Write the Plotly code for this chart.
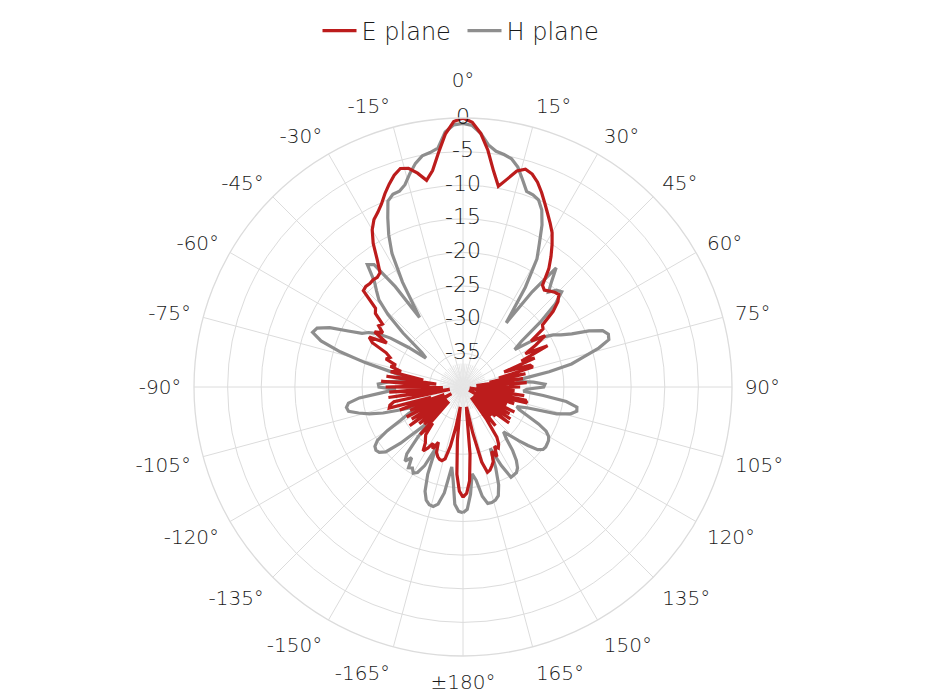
import plotly.graph_objects as go

# Angles (degrees, clockwise from boresight), 2 degree steps from -180 to 180
theta = list(range(-180, 182, 2))

e_plane = [
    -23.6, -24.5, -27, -32, -37, -34, -31, -29, -28.6, -28.7,          # -180..-162
    -29, -29.5, -31, -29.8, -30.5, -29.5, -28.8, -30, -30.5, -31,       # -160..-142
    -33, -30.5, -37, -32, -35, -31.5, -37, -30.2, -35, -31,             # -140..-122
    -38, -30.5, -36, -31.4, -37, -30, -35, -28.6, -28.8, -29.5,         # -120..-102
    -38, -28.8, -36, -29, -37, -28.5, -35, -27.8, -36, -28.5,           # -100..-82
    -34, -29, -30.5, -28.8, -29.5, -27.8, -28.3, -27.5, -25, -24.2,     # -80..-62
    -26.9, -24.5, -25.6, -24.5, -24.8, -23, -22.5, -19.4, -19.2, -19.3, # -60..-42
    -19.2, -19.3, -19.0, -17.2, -14.8, -13.0, -11.8, -11.1, -10.2, -9.0,# -40..-22
    -7.9, -6.9, -6.2, -6.5, -7.5, -8.8, -7.5, -5.0, -2.3, -0.5,         # -20..-2
    0.0,                                                                # 0
    -0.6, -2.2, -4.6, -7.5, -9.7, -8.4, -6.9, -6.3, -6.7, -7.6,         # 2..20
    -8.8, -10.1, -11.3, -12.4, -13.5, -15.0, -16.6, -18.3, -20.8, -21.2,# 22..40
    -20.8, -20.4, -20.2, -21.0, -22.5, -25.0, -25.3, -27.8, -25.6, -27.5,# 42..60
    -29.5, -26.0, -30.5, -28.5, -33.5, -29.5, -29.2, -34.5, -30.5, -36, # 62..80
    -31, -38, -30.5, -36, -31.5, -38, -32.3, -37, -30.8, -39,           # 82..100
    -30.5, -30.2, -37, -32, -38, -33, -37, -31.5, -39, -32,             # 102..120
    -36, -31.5, -38, -31.3, -35, -33.5, -38, -34, -36, -32.5,           # 122..140
    -38, -34, -31, -30, -29.5, -30, -28.5, -29.5, -28, -27.5,           # 142..160
    -27, -26.8, -28.5, -33, -37, -36, -30, -26, -24.2, -23.6,           # 162..180
]

h_plane = [
    -21.3, -21.5, -22.5, -26, -28, -24, -22.2, -21.7, -21.8, -22.3,     # -180..-162
    -23.5, -26, -30, -27, -25.6, -25.2, -25.8, -25.5, -27, -26,         # -160..-142
    -27, -30, -33, -31, -27.5, -25, -24.2, -24, -24.2, -25,             # -140..-122
    -27, -29.5, -31, -33, -32, -30, -27.5, -25.5, -24, -22.6,           # -120..-102
    -22.4, -22.8, -24.5, -28, -30, -27.5, -27.4, -29, -31, -32,         # -100..-82
    -31, -29, -25, -21, -17.8, -16.2, -16.6, -18.3, -21, -23,           # -80..-62
    -23.8, -25, -27, -30, -33, -32, -28, -24.5, -22, -20.8,             # -60..-42
    -19.5, -16.9, -17.5, -22, -27.8, -22, -17.5, -14.8, -12.5, -10.2,   # -40..-22
    -9.5, -9.4, -8.7, -7.3, -6.0, -5.1, -4.8, -4.3, -2.0, -1.0,         # -20..-2
    -0.8,                                                               # 0
    -1.1, -2.2, -3.8, -4.6, -4.9, -5.3, -6.3, -7.9, -9.4, -9.6,         # 2..20
    -10.0, -11.2, -13.2, -15.8, -18.0, -22.5, -28.5, -22.5, -17.5, -19.5,# 22..40
    -21, -20, -19.6, -21.5, -25, -29, -30.5, -28, -26, -24.5,           # 42..60
    -23.5, -22, -19.5, -17.6, -17, -17.2, -19, -21.5, -23.5, -27,       # 62..80
    -31, -32, -29.5, -27.8, -28, -30.5, -31, -28, -24.5, -22.8,         # 82..100
    -22.7, -23.5, -25.5, -30, -31.5, -31, -29.5, -27.5, -26, -25.3,     # 102..120
    -25, -24.9, -24.8, -24.9, -25.5, -27, -28.5, -30, -31, -30,         # 122..140
    -28, -26.5, -25.5, -25, -24.9, -24.8, -27, -30, -27, -24.5,         # 142..160
    -23, -22.5, -22.3, -22.3, -23.5, -26, -27, -24, -21.8, -21.3,       # 162..180
]

# Angular tick labels
ang_tickvals = list(range(0, 360, 15))
ang_ticktext = ["0°", "15°", "30°", "45°", "60°", "75°", "90°", "105°", "120°",
                "135°", "150°", "165°", "±180°", "-165°", "-150°", "-135°",
                "-120°", "-105°", "-90°", "-75°", "-60°", "-45°", "-30°", "-15°"]

# Radial labels (dB)
r_ticks = [0, -5, -10, -15, -20, -25, -30, -35]
r_range = [-40, 0]

RED = "#BC1C1C"
GRAY = "#8E8E8E"
GRID = "#DCDCDC"
TXT = "#1A1A1A"
FONT = "DejaVu Sans"
WEIGHT = 200

# page body has an 8px margin; work in figure coordinates
W, H = 922, 688
cx, cy, R = 455, 379, 269

# the top (0°) label is drawn separately, lifted clear of the "0" radial label
tick_labels = [""] + ang_ticktext[1:]

fig = go.Figure()

# faint short spokes around the centre
spoke_angles = list(range(0, 360, 5))
sp_theta, sp_r = [], []
for a in spoke_angles:
    sp_theta += [a, a, None]
    sp_r += [r_range[0], -36.5, None]
fig.add_trace(go.Scatterpolar(
    theta=sp_theta, r=sp_r, mode="lines",
    line=dict(color="#E6E6E6", width=1),
    showlegend=False, hoverinfo="skip"))

fig.add_trace(go.Scatterpolar(
    theta=theta, r=h_plane, mode="lines", name="H plane",
    line=dict(color=GRAY, width=3.2), legendrank=2))
fig.add_trace(go.Scatterpolar(
    theta=theta, r=e_plane, mode="lines", name="E plane",
    line=dict(color=RED, width=3.2), legendrank=1))

# radial value labels along the 0° direction
fig.add_trace(go.Scatterpolar(
    theta=[0] * len(r_ticks), r=r_ticks, mode="text",
    text=[str(v) for v in r_ticks], textposition="middle center",
    textfont=dict(family=FONT, size=22, color=TXT, weight=WEIGHT),
    showlegend=False, hoverinfo="skip", cliponaxis=False))

# 0° angular label above the outer ring
fig.add_trace(go.Scatterpolar(
    theta=[ang_tickvals[0]], r=[r_range[1]], mode="text",
    text=[ang_ticktext[0] + "<br> "], textposition="top center",
    textfont=dict(family=FONT, size=20, color=TXT, weight=WEIGHT),
    showlegend=False, hoverinfo="skip", cliponaxis=False))

fig.update_layout(
    width=W, height=H,
    margin=dict(l=0, r=0, t=0, b=0),
    paper_bgcolor="white",
    font=dict(family=FONT, color=TXT, size=20, weight=WEIGHT),
    legend=dict(orientation="h", x=454.5 / W, xanchor="center", y=1 - 23 / H,
                yanchor="middle",
                font=dict(size=24, family=FONT, color=TXT, weight=WEIGHT),
                itemwidth=34, entrywidth=96, traceorder="normal"),
    polar=dict(
        domain=dict(x=[(cx - R) / W, (cx + R) / W],
                    y=[1 - (cy + R) / H, 1 - (cy - R) / H]),
        bgcolor="white",
        radialaxis=dict(range=r_range, tickvals=r_ticks[1:], showticklabels=False,
                        showline=False, ticks="", gridcolor=GRID, gridwidth=1.3,
                        angle=90),
        angularaxis=dict(direction="clockwise", rotation=90,
                         tickvals=ang_tickvals, ticktext=tick_labels,
                         ticks="outside", ticklen=8, tickcolor="rgba(0,0,0,0)",
                         showline=True, linecolor=GRID, linewidth=1.3,
                         gridcolor=GRID, gridwidth=1.3,
                         tickfont=dict(family=FONT, size=20, color=TXT, weight=WEIGHT)),
    ),
)

fig.write_html("out.html")
